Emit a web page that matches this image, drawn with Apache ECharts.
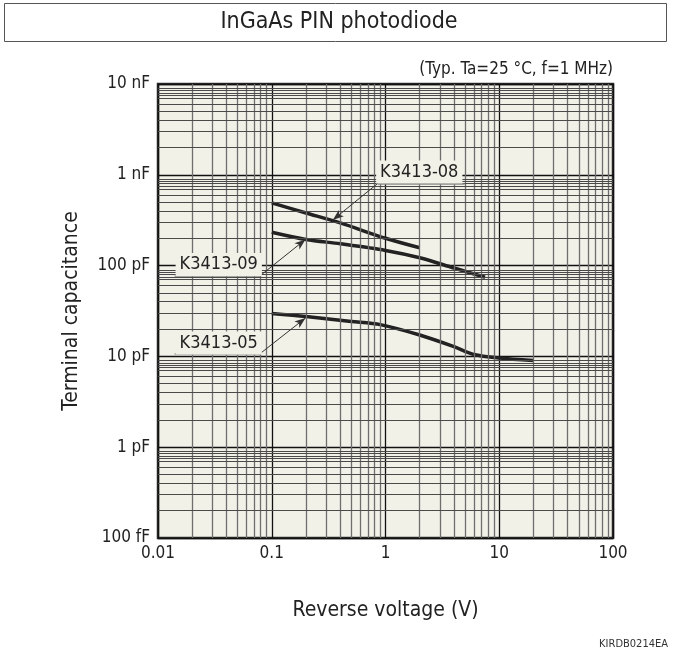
<!DOCTYPE html>
<html>
<head>
<meta charset="utf-8">
<script src="https://cdn.jsdelivr.net/npm/echarts@6/dist/echarts.min.js"></script>
<style>
  html, body { margin: 0; padding: 0; background: #fff; }
  #chart { width: 680px; height: 654px; }
</style>
</head>
<body>
<div id="chart"></div>
<script>
// reverse voltage (V) vs terminal capacitance (pF)
const voltage08 = [0.1, 0.2, 0.4, 1, 2];
const cap08 = [490, 380, 295, 200, 157];

const voltage09 = [0.1, 0.2, 0.4, 1, 2, 4, 7.5];
const cap09 = [233, 194, 174, 147, 122, 94, 74.5];

const voltage05 = [0.1, 0.2, 0.5, 0.9, 2, 4, 6, 10, 20];
const cap05 = [29.7, 27.5, 24.3, 22.4, 17.2, 12.8, 10.5, 9.6, 9.0];

// axis ticks
const xTickValues = [0.01, 0.1, 1, 10, 100];
const xTickLabels = ['0.01', '0.1', '1', '10', '100'];
const yTickValues = [0.1, 1, 10, 100, 1000, 10000];
const yTickLabels = ['100 fF', '1 pF', '10 pF', '100 pF', '1 nF', '10 nF'];

// log paper minor lines inside each decade
const xDecades = [0.01, 0.1, 1, 10];
const xSteps = [2, 3, 4, 5, 6, 7, 8, 9];
const yDecades = [0.1, 1, 10, 100, 1000];
const ySteps = [2, 3, 4, 5, 6, 7, 7.5, 8, 8.5, 9];

const FONT = '"DejaVu Sans Condensed", "DejaVu Sans", sans-serif';
const INK = '#222';
const PAPER = '#f2f1e8';

const pairs = (xs, ys) => xs.map((x, i) => [x, ys[i]]);

const xMinor = [];
xDecades.forEach(d => xSteps.forEach(s => xMinor.push(+(d * s).toPrecision(6))));
const yMinor = [];
yDecades.forEach(d => ySteps.forEach(s => yMinor.push(+(d * s).toPrecision(6))));

function tickLabel(values, labels) {
  return v => {
    const i = values.findIndex(t => Math.abs(Math.log10(t) - Math.log10(v)) < 1e-6);
    return i >= 0 ? labels[i] : '';
  };
}

// callout label placement (text centre, underline, leader tip) in data coords
const callouts = [
  { name: 'K3413-08', text: [1.98, 1074], under: [[0.853, 802], [4.97, 802]], from: 0, tip: [0.344, 318] },
  { name: 'K3413-09', text: [0.0342, 102.8], under: [[0.0140, 77.8], [0.0795, 77.8]], from: 1, tip: [0.198, 194] },
  { name: 'K3413-05', text: [0.0342, 14.06], under: [[0.0140, 10.8], [0.0795, 10.8]], from: 1, tip: [0.198, 26.5] }
];

function curve(name, xs, ys) {
  return {
    name: name,
    type: 'line',
    data: pairs(xs, ys),
    smooth: 0.3,
    symbol: 'none',
    z: 4,
    lineStyle: { color: INK, width: 3.5 },
    silent: true
  };
}

function calloutSeries(c) {
  return {
    type: 'line',
    data: [],
    z: 5,
    silent: true,
    markLine: {
      silent: true,
      animation: false,
      label: { show: false },
      data: [
        [
          { coord: c.under[0], symbol: 'none', lineStyle: { color: '#8a8a8a', width: 1.5, type: 'solid' } },
          { coord: c.under[1], symbol: 'none' }
        ],
        [
          { coord: c.under[c.from], symbol: 'none', lineStyle: { color: '#333', width: 1, type: 'solid' } },
          { coord: c.tip, symbol: 'arrow', symbolSize: [6, 11] }
        ]
      ]
    },
    markPoint: {
      silent: true,
      animation: false,
      symbol: 'rect',
      symbolSize: 0,
      data: [{ coord: c.text }],
      label: {
        show: true,
        position: 'inside',
        formatter: c.name,
        fontFamily: FONT,
        fontSize: 18,
        color: INK,
        backgroundColor: PAPER,
        padding: [2, 4, 3, 4]
      }
    }
  };
}

const chart = echarts.init(document.getElementById('chart'), null, { renderer: 'canvas' });

chart.setOption({
  animation: false,
  backgroundColor: '#fff',
  textStyle: { fontFamily: FONT },
  grid: {
    left: 158,
    top: 84,
    right: 67,
    bottom: 116,
    show: true,
    backgroundColor: PAPER,
    borderColor: '#2a2a2a',
    borderWidth: 2.5,
    z: 0
  },
  xAxis: {
    type: 'log',
    logBase: 10,
    min: 0.01,
    max: 100,
    interval: 1,
    name: 'Reverse voltage (V)',
    nameLocation: 'middle',
    nameGap: 62,
    nameTextStyle: { fontFamily: FONT, fontSize: 21, color: INK },
    axisLine: { show: false },
    axisTick: { show: false },
    axisLabel: {
      margin: 7,
      fontFamily: FONT,
      fontSize: 17,
      color: INK,
      formatter: tickLabel(xTickValues, xTickLabels)
    },
    splitLine: { show: true, lineStyle: { color: '#111', width: 1.3 } },
    minorSplitLine: { show: false }
  },
  yAxis: {
    type: 'log',
    logBase: 10,
    min: 0.1,
    max: 10000,
    interval: 1,
    name: 'Terminal capacitance',
    nameLocation: 'middle',
    nameGap: 76,
    nameRotate: 90,
    nameTextStyle: { fontFamily: FONT, fontSize: 21, color: INK },
    axisLine: { show: false },
    axisTick: { show: false },
    axisLabel: {
      margin: 8,
      fontFamily: FONT,
      fontSize: 17,
      color: INK,
      formatter: tickLabel(yTickValues, yTickLabels)
    },
    splitLine: { show: true, lineStyle: { color: '#111', width: 1.3 } }
  },
  series: [
    {
      name: 'grid',
      type: 'line',
      data: [],
      z: 1,
      silent: true,
      markLine: {
        silent: true,
        animation: false,
        symbol: 'none',
        label: { show: false },
        data: xMinor.map(v => ({ xAxis: v, lineStyle: { color: '#6e6e6e', width: 1.3, type: 'solid' } }))
          .concat(yMinor.map(v => ({ yAxis: v, lineStyle: { color: '#4a4a4a', width: 1.1, type: 'solid' } })))
      }
    },
    curve('K3413-08', voltage08, cap08),
    curve('K3413-09', voltage09, cap09),
    curve('K3413-05', voltage05, cap05)
  ].concat(callouts.map(calloutSeries)),
  graphic: [
    {
      type: 'rect',
      shape: { x: 4.5, y: 3.5, width: 662, height: 38 },
      style: { fill: 'none', stroke: '#555', lineWidth: 1 }
    },
    {
      type: 'text',
      x: 339, y: 22,
      style: { text: 'InGaAs PIN photodiode', font: '23px ' + FONT, fill: INK, align: 'center', verticalAlign: 'middle' }
    },
    {
      type: 'text',
      x: 613, y: 70,
      style: { text: '(Typ. Ta=25 °C, f=1 MHz)', font: '17px ' + FONT, fill: INK, align: 'right', verticalAlign: 'middle' }
    },
    {
      type: 'text',
      x: 668, y: 644,
      style: { text: 'KIRDB0214EA', font: '11px ' + FONT, fill: '#333', align: 'right', verticalAlign: 'middle' }
    }
  ]
});

window.addEventListener('resize', () => chart.resize());
</script>
</body>
</html>
